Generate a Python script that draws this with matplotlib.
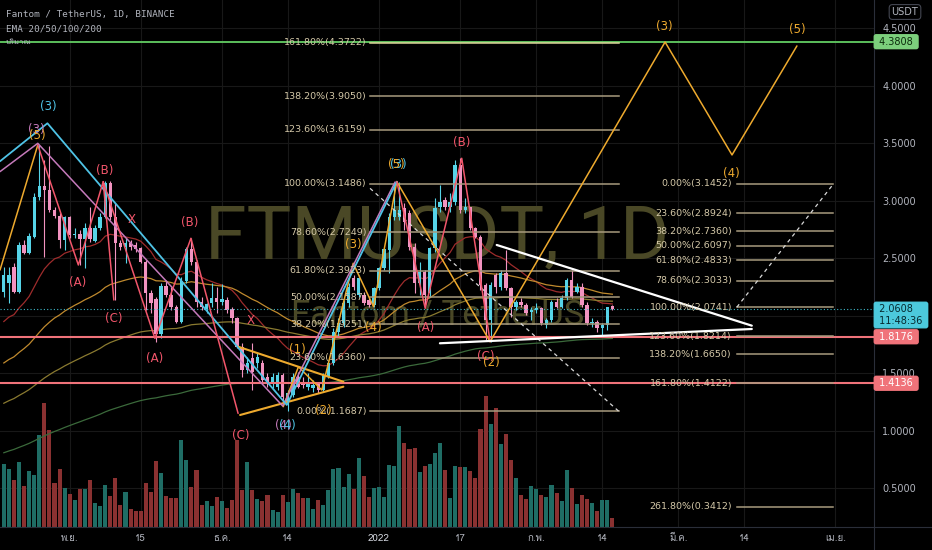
import numpy as np
import matplotlib
matplotlib.use("Agg")
import matplotlib.pyplot as plt
import matplotlib.transforms as mtrans
from matplotlib import font_manager as fm
from matplotlib.ft2font import FT2Font
from matplotlib.lines import Line2D

# ---------------------------------------------------------------- data
start_date = "2021-10-19"
ref_date = "2022-01-01"

opens = [2.210, 2.282, 2.427, 2.210, 2.615, 2.549, 2.688, 3.029, 3.128, 3.093,
         2.919, 2.867, 2.659, 2.855, 2.700, 2.711, 2.664, 2.760, 2.653, 2.760,
         2.861, 3.157, 2.861, 2.630, 2.601, 2.630, 2.615, 2.586, 2.470, 2.201,
         2.143, 1.842, 2.259, 2.181, 2.074, 1.949, 2.305, 2.577, 2.470, 2.123,
         2.056, 2.108, 2.152, 2.123, 2.137, 2.056, 1.978, 1.732, 1.529, 1.630,
         1.587, 1.587, 1.471, 1.413, 1.384, 1.486, 1.240, 1.312, 1.471, 1.428,
         1.384, 1.370, 1.413, 1.355, 1.471, 1.587, 1.862, 1.935, 2.108, 2.326,
         2.181, 2.181, 2.137, 2.094, 2.239, 2.412, 2.572, 2.861, 2.861, 2.934,
         2.890, 2.601, 2.282, 2.383, 2.195, 2.586, 2.948, 3.006, 2.948, 2.992,
         3.310, 2.919, 2.948, 2.760, 2.688, 2.268, 1.963, 2.354, 2.253, 2.369,
         2.239, 2.079, 2.123, 2.094, 2.036, 2.050, 2.065, 1.920, 1.963, 2.123,
         2.079, 2.152, 2.311, 2.210, 2.253, 2.094, 1.935, 1.949, 1.891, 1.920,
         2.085]
highs = [2.427, 2.427, 2.456, 2.644, 2.659, 2.716, 3.064, 3.484, 3.354, 3.475,
         2.948, 2.890, 2.867, 2.867, 2.760, 2.745, 2.803, 2.948, 2.789, 2.890,
         3.174, 3.174, 2.977, 2.659, 2.673, 2.659, 2.644, 2.601, 2.485, 2.224,
         2.166, 2.282, 2.311, 2.253, 2.094, 2.340, 2.601, 2.673, 2.485, 2.166,
         2.108, 2.282, 2.253, 2.276, 2.166, 2.079, 1.992, 1.761, 1.645, 1.761,
         1.674, 1.616, 1.500, 1.500, 1.515, 1.500, 1.355, 1.500, 1.515, 1.471,
         1.500, 1.442, 1.428, 1.500, 1.616, 1.891, 1.978, 2.137, 2.282, 2.354,
         2.354, 2.210, 2.152, 2.253, 2.427, 2.586, 2.890, 3.136, 3.165, 2.977,
         2.919, 2.630, 2.470, 2.398, 2.601, 3.021, 3.136, 3.035, 3.064, 3.354,
         3.368, 3.021, 2.948, 2.774, 2.702, 2.282, 2.297, 2.369, 2.398, 2.572,
         2.253, 2.137, 2.152, 2.108, 2.079, 2.108, 2.079, 1.978, 2.137, 2.152,
         2.181, 2.326, 2.398, 2.282, 2.282, 2.123, 1.978, 1.963, 1.935, 2.079,
         2.094]
lows = [2.166, 2.108, 2.195, 2.201, 2.537, 2.537, 2.673, 3.006, 2.514, 2.905,
        2.847, 2.586, 2.572, 2.673, 2.673, 2.441, 2.412, 2.644, 2.644, 2.745,
        2.847, 2.832, 2.137, 2.572, 2.456, 2.572, 2.557, 2.456, 2.050, 2.021,
        1.775, 1.804, 2.166, 2.050, 1.935, 1.935, 2.282, 2.441, 2.079, 2.050,
        2.021, 2.079, 2.021, 2.094, 2.021, 1.935, 1.717, 1.471, 1.500, 1.355,
        1.544, 1.413, 1.384, 1.370, 1.355, 1.240, 1.169, 1.297, 1.370, 1.370,
        1.355, 1.341, 1.326, 1.341, 1.457, 1.573, 1.819, 1.906, 2.079, 2.224,
        2.166, 2.094, 2.079, 2.079, 2.224, 2.398, 2.369, 2.832, 2.832, 2.745,
        2.572, 2.195, 2.181, 2.079, 2.166, 2.557, 2.905, 2.919, 2.905, 2.963,
        2.890, 2.890, 2.745, 2.673, 2.224, 1.790, 1.775, 2.195, 2.224, 2.224,
        1.992, 2.050, 2.079, 2.007, 1.963, 2.021, 1.920, 1.891, 1.949, 2.065,
        2.065, 2.137, 2.152, 2.195, 2.079, 1.920, 1.906, 1.862, 1.819, 1.877,
        2.050]
closes = [2.354, 2.354, 2.210, 2.615, 2.549, 2.693, 3.035, 3.128, 3.093, 2.919,
          2.867, 2.659, 2.855, 2.702, 2.711, 2.664, 2.760, 2.664, 2.760, 2.861,
          3.157, 2.861, 2.630, 2.595, 2.630, 2.595, 2.577, 2.470, 2.201, 2.108,
          1.842, 2.259, 2.181, 2.074, 1.949, 2.305, 2.577, 2.470, 2.123, 2.079,
          2.103, 2.152, 2.123, 2.143, 2.050, 1.978, 1.732, 1.529, 1.587, 1.515,
          1.645, 1.442, 1.428, 1.471, 1.486, 1.297, 1.326, 1.471, 1.384, 1.399,
          1.428, 1.399, 1.355, 1.486, 1.587, 1.862, 1.935, 2.108, 2.253, 2.253,
          2.326, 2.108, 2.094, 2.239, 2.412, 2.577, 2.861, 2.919, 2.919, 2.818,
          2.601, 2.282, 2.383, 2.181, 2.586, 2.934, 2.992, 2.948, 2.992, 3.310,
          2.919, 2.948, 2.760, 2.688, 2.268, 1.963, 2.268, 2.253, 2.369, 2.239,
          2.079, 2.123, 2.094, 2.021, 2.050, 2.065, 1.935, 1.963, 2.123, 2.079,
          2.152, 2.311, 2.166, 2.253, 2.094, 1.935, 1.949, 1.891, 1.920, 2.079,
          2.061]
volume_m = [126, 117, 95, 131, 83, 112, 104, 184, 249, 195,
            89, 116, 79, 66, 55, 76, 76, 94, 49, 43,
            85, 62, 99, 45, 71, 36, 32, 32, 88, 70,
            133, 108, 62, 59, 59, 175, 134, 81, 115, 44,
            53, 42, 61, 52, 39, 54, 174, 74, 131, 74,
            56, 53, 64, 35, 31, 64, 51, 76, 69, 59,
            59, 36, 54, 44, 74, 117, 119, 81, 106, 77,
            139, 102, 61, 79, 81, 61, 125, 122, 203, 169,
            156, 159, 110, 123, 127, 149, 169, 115, 59, 123,
            121, 120, 112, 99, 196, 263, 206, 239, 167, 187,
            135, 98, 65, 56, 83, 76, 65, 61, 84, 69,
            52, 114, 79, 47, 65, 57, 49, 32, 54, 54,
            19]

ema_periods = [20, 50, 100, 200]
ema_first = [1.95, 1.59, 1.24, 0.81]          # indicator values on the first visible bar
ema_colors = ["#9e2c2c", "#c08a2e", "#8a7a30", "#3b6a3b"]

tick_dates = ["2021-11-01", "2021-11-15", "2021-12-01", "2021-12-14", "2022-01-01",
              "2022-01-17", "2022-02-01", "2022-02-14", "2022-03-01", "2022-03-14",
              "2022-04-01"]
tick_labels = ["พ.ย.", "15", "ธ.ค.", "14", "2022", "17", "ก.พ.", "14", "มี.ค.", "14", "เม.ย."]
price_ticks = [0.5, 1.0, 1.5, 2.0, 2.5, 3.0, 3.5, 4.0, 4.5]

fib1_pct = [161.8, 138.2, 123.6, 100.0, 78.6, 61.8, 50.0, 38.2, 23.6, 0.0]
fib1_price = [4.3722, 3.9050, 3.6159, 3.1486, 2.7249, 2.3923, 2.1587, 1.9251, 1.6360, 1.1687]
fib2_pct = [0.0, 23.6, 38.2, 50.0, 61.8, 78.6, 100.0, 123.6, 138.2, 161.8, 261.8]
fib2_price = [3.1452, 2.8924, 2.7360, 2.6097, 2.4833, 2.3033, 2.0741, 1.8214, 1.6650, 1.4122, 0.3412]

level_green = 4.3808
level_red = [1.8176, 1.4136]
last_price = 2.0608
countdown = "11:48:36"

# ---------------------------------------------------------------- style
BG = "#000000"
UP, DN = "#56d4e8", "#f293c0"
VUP, VDN = "#1f6d65", "#8a3131"
GRID = "#181818"
AXTXT = "#b2b5be"
ORANGE = "#eeaa2e"
CYAN_W = "#4fc3e6"
PURPLE = "#c57abb"
RED_W = "#f2566b"
FIBC = "#a89b7e"
FIBT = "#d4c8a8"


def thai_family():
    for f in fm.fontManager.ttflist:
        try:
            cmap = FT2Font(f.fname).get_charmap()
        except Exception:
            continue
        if 0x0E1E in cmap and 0x0E22 in cmap and 0x0E21 in cmap:
            return f.name
    return None


tf = thai_family()
THAI = [tf, "DejaVu Sans"] if tf else ["DejaVu Sans"]

# ---------------------------------------------------------------- figure
W, H = 932, 550
fig = plt.figure(figsize=(W / 100, H / 100), dpi=100, facecolor=BG)
rect = [0, 23 / H, 874 / W, 527 / H]
axv = fig.add_axes(rect)
ax = fig.add_axes(rect, sharex=axv)
axv.set_zorder(1)
ax.set_zorder(2)
axv.set_facecolor(BG)
ax.patch.set_visible(False)

dates = np.arange(np.datetime64(start_date), np.datetime64(start_date) + len(closes))
x = (dates - np.datetime64(ref_date)).astype(int)
o, h, l, c = map(np.array, (opens, highs, lows, closes))
up = c >= o

# grid (behind volume)
tx = (np.array(tick_dates, dtype="datetime64[D]") - np.datetime64(ref_date)).astype(int)
for t in tx:
    axv.axvline(t, color=GRID, lw=0.8, zorder=0.2)
for p in price_ticks:
    axv.plot([0, 1], [p, p], transform=mtrans.blended_transform_factory(axv.transAxes, ax.transData),
             color=GRID, lw=0.8, zorder=0.2)

# volume
axv.bar(x, volume_m, width=0.8, color=np.where(up, VUP, VDN), linewidth=0, zorder=1)
axv.set_ylim(0, 1054)
axv.set_yticks([])
for s in axv.spines.values():
    s.set_visible(False)
axv.tick_params(axis="x", length=0, labelbottom=False)

# watermark
ax.text(437 / W, 1 - 239 / H, "FTMUSDT, 1D", transform=fig.transFigure, ha="center",
        va="center", fontsize=54, family="Roboto", color="#4a4826", zorder=0.5)
ax.text(438 / W, 1 - 315 / H, "Fantom / TetherUS", transform=fig.transFigure, ha="center",
        va="center", fontsize=25, family="Roboto", color="#4a4826", zorder=0.5)


# EMAs
def ema(vals, n, first):
    a = 2.0 / (n + 1)
    out = [first]
    for v in vals[1:]:
        out.append(out[-1] + a * (v - out[-1]))
    return out


for n, f0, col in zip(ema_periods, ema_first, ema_colors):
    ax.plot(x, ema(closes, n, f0), color=col, lw=0.9, zorder=2)

# candles
ccol = np.where(up, UP, DN)
ax.vlines(x, l, h, colors=ccol, lw=0.8, zorder=3)
ax.bar(x, np.maximum(np.abs(c - o), 0.008), bottom=np.minimum(o, c), width=0.66,
       color=ccol, linewidth=0, zorder=3.1)

# horizontal levels
ax.axhline(level_green, color="#5cbf5c", lw=1.4, zorder=4)
for lv in level_red:
    ax.axhline(lv, color="#f0737a", lw=1.5, zorder=4)
ax.axhline(last_price, color="#3fb8c8", lw=0.8, ls=(0, (1, 2)), zorder=4)


# fib tools
def fib(pcts, prices, x0, x1, xlab, dash, top_color=None):
    for pc, pr in zip(pcts, prices):
        col = FIBC
        if top_color and pc == max(pcts):
            col = top_color
        ax.plot([x0, x1], [pr, pr], color=col, lw=1.1, zorder=4)
        ax.text(xlab, pr, f"{pc:.2f}%({pr:.4f})", ha="right", va="center",
                fontsize=6.8, color=FIBT, zorder=6)
    ax.plot(*zip(*dash), color="#d8d8d8", lw=0.9, ls=(0, (3, 3)), zorder=4)


fib(fib1_pct, fib1_price, -1.78, 47.3, -2.5, [(-1.78, 3.107), (47.3, 1.1687)], "#ddd89a")
fib(fib2_pct, fib2_price, 70.55, 89.6, 69.6, [(70.55, 2.0741), (89.6, 3.1452)])

# wave drawings (day offset, price)
paths = [
    ([(21.9, 1.775), (56.4, 4.378), (69.6, 3.397), (82.4, 4.344)], ORANGE, 1.1),
    ([(3.5, 3.165), (21.9, 1.775)], ORANGE, 1.1),
    ([(-74.75, 2.397), (-67.3, 3.483)], ORANGE, 1.1),
    ([(-18.9, 1.210), (-15.9, 1.557), (-11.3, 1.355), (-5.1, 2.456), (-1.1, 2.079),
      (3.5, 3.165)], ORANGE, 1.1),
    ([(-27.75, 1.731), (-7.04, 1.427)], ORANGE, 1.5),
    ([(-27.4, 1.138), (-7.04, 1.384)], ORANGE, 1.5),
    ([(-74.75, 3.252), (-67.3, 3.498), (-19.0, 1.216), (3.16, 3.162)], PURPLE, 1.1),
    ([(-74.75, 3.342), (-65.4, 3.672), (-18.2, 1.225), (3.5, 3.165)], CYAN_W, 1.3),
    ([(-67.3, 3.483), (-59.3, 2.441), (-54.4, 3.165), (-52.3, 2.137)], RED_W, 1.1),
    ([(-54.4, 3.165), (-44.2, 1.804), (-37.1, 2.673), (-27.8, 1.152)], RED_W, 1.1),
    ([(3.5, 3.165), (9.1, 2.065), (16.3, 3.368), (21.9, 1.775)], RED_W, 1.1),
    ([(23.2, 2.615), (73.5, 1.914)], "#ffffff", 1.6),
    ([(12.0, 1.761), (73.5, 1.885)], "#ffffff", 1.6),
]
for pts, col, lw in paths:
    ax.plot(*zip(*pts), color=col, lw=lw, zorder=5, solid_capstyle="round")

labels = [
    ("(3)", 56.2, 4.517, ORANGE), ("(5)", 82.4, 4.483, ORANGE), ("(4)", 69.5, 3.232, ORANGE),
    ("(C)", 21.1, 1.642, RED_W), ("(2)", 22.1, 1.598, ORANGE),
    ("(A)", 9.1, 1.902, RED_W), ("(B)", 16.2, 3.501, RED_W),
    ("(3)", -65.3, 3.814, CYAN_W), ("(3)", -67.5, 3.62, PURPLE), ("(5)", -67.3, 3.57, ORANGE),
    ("(B)", -54.2, 3.266, RED_W), ("(A)", -59.4, 2.285, RED_W), ("(C)", -52.3, 1.98, RED_W),
    ("X", -48.7, 2.84, RED_W),
    ("(A)", -44.2, 1.633, RED_W), ("(B)", -37.3, 2.806, RED_W), ("(C)", -27.2, 0.964, RED_W),
    ("X", -25.4, 1.963, RED_W),
    ("(4)", -18.9, 1.051, PURPLE), ("(4)", -18.1, 1.051, CYAN_W),
    ("(1)", -16.2, 1.708, ORANGE), ("(2)", -11.0, 1.181, ORANGE), ("(3)", -5.1, 2.615, ORANGE),
    ("(4)", -1.2, 1.894, ORANGE), ("(3)", 3.7, 3.31, CYAN_W), ("(5)", 3.5, 3.31, ORANGE),
]
for s, lx, ly, col in labels:
    ax.text(lx, ly, s, color=col, fontsize=8.5, ha="center", va="center", zorder=7)

# axes
ax.set_xlim(-74.75, 97.6)
ax.set_ylim(0.165, 4.743)
for s in ax.spines.values():
    s.set_visible(False)
ax.yaxis.tick_right()
ax.set_yticks(price_ticks)
ax.set_yticklabels([f"{p:.4f}" for p in price_ticks])
ax.tick_params(axis="y", length=0, pad=6, labelsize=7, labelcolor=AXTXT)
ax.set_xticks(tx)
ax.set_xticklabels(tick_labels)
ax.tick_params(axis="x", length=0, pad=5, labelsize=7, labelcolor=AXTXT)
for t in ax.get_xticklabels():
    t.set_fontfamily(THAI)
    if t.get_text() == "2022":
        t.set_color("#d1d4dc")

ytr = mtrans.blended_transform_factory(ax.transAxes, ax.transData)


def price_box(val, text, fc, tc, dy=0):
    ax.annotate(text, xy=(1, val), xycoords=ytr, xytext=(1.6, dy), textcoords="offset points",
                ha="left", va="center", fontsize=7, color=tc, annotation_clip=False,
                bbox=dict(boxstyle="round,pad=0.2,rounding_size=0.2", fc=fc, ec=fc), zorder=10)


price_box(level_green, f" {level_green:.4f} ", "#7ccf7c", "#0b2a0b")
price_box(level_red[0], f" {level_red[0]:.4f} ", "#f0737a", "#ffffff")
price_box(level_red[1], f" {level_red[1]:.4f} ", "#f0737a", "#ffffff")
price_box(last_price, f" {last_price:.4f}\n {countdown} ", "#4cc9dc", "#062a30", dy=-4.5)

# separators & header
fig.add_artist(Line2D([874 / W, 874 / W], [0, 1], color="#2a2e39", lw=0.8))
fig.add_artist(Line2D([0, 1], [23 / H, 23 / H], color="#2a2e39", lw=0.8))
fig.text(905 / W, 1 - 12 / H, "USDT", ha="center", va="center", fontsize=7, color=AXTXT,
         bbox=dict(boxstyle="round,pad=0.25,rounding_size=0.35", fc=BG, ec="#434651", lw=0.8))
fig.text(6 / W, 1 - 15 / H, "Fantom / TetherUS, 1D, BINANCE", ha="left", va="center",
         fontsize=6.7, family="DejaVu Sans Mono", color=AXTXT)
fig.text(6 / W, 1 - 29 / H, "EMA 20/50/100/200", ha="left", va="center",
         fontsize=6.7, family="DejaVu Sans Mono", color=AXTXT)
fig.text(6 / W, 1 - 42 / H, "ปริมาณ", ha="left", va="center", fontsize=5.5,
         family=THAI, color=AXTXT)

fig.savefig("out.png", dpi=100, facecolor=BG)
